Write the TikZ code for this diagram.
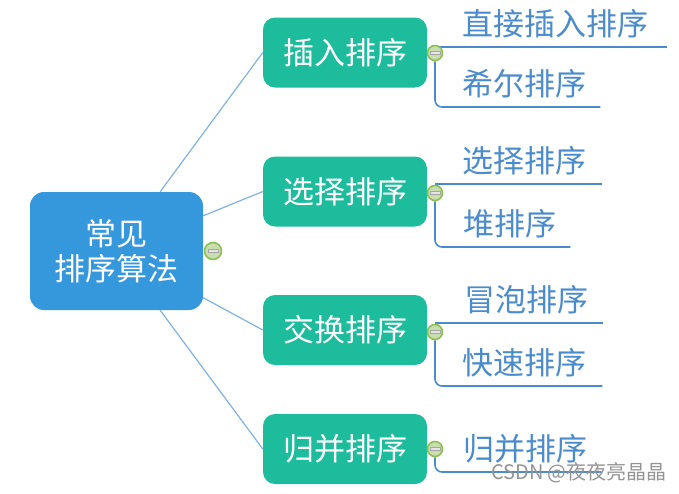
\documentclass[tikz,border=0pt]{standalone}
\usepackage{fontspec}
\setmainfont{Noto Sans CJK SC}
\usetikzlibrary{positioning}
\usetikzlibrary{backgrounds}
\definecolor{rootblue}{HTML}{3598DC}
\definecolor{boxgreen}{HTML}{1DBC9C}
\definecolor{linkblue}{HTML}{7FB2E2}
\definecolor{leafblue}{HTML}{4A8BCB}
\definecolor{foldgreen}{HTML}{8CC152}
\definecolor{foldfill}{HTML}{C9DDB0}

\begin{document}
\begin{tikzpicture}[x=1pt,y=-1pt,
  rootbox/.style={rectangle,rounded corners=14pt,fill=rootblue,text=white,minimum width=173pt,minimum height=118pt,align=center,font=\fontsize{31}{35}\selectfont},
  sortbox/.style={rectangle,rounded corners=12pt,fill=boxgreen,text=white,minimum width=164pt,minimum height=70pt,font=\fontsize{31}{35}\selectfont},
  leaf/.style={anchor=south west,inner xsep=0pt,inner ysep=11pt,text height=24pt,text depth=0pt,text=leafblue,font=\fontsize{31}{35}\selectfont},
  link/.style={draw=linkblue,line width=1.2pt},
  branch/.style={draw=leafblue,line width=1.6pt,rounded corners=7pt},
  fold/.style={circle,draw=foldgreen,fill=foldfill,line width=1.6pt,minimum size=15pt,inner sep=0pt,
    path picture={\filldraw[fill=gray!20,draw=gray!70,line width=0.6pt] ([xshift=-5pt,yshift=-1.6pt]path picture bounding box.center) rectangle ([xshift=5pt,yshift=1.6pt]path picture bounding box.center);}}]
\useasboundingbox (0,0) rectangle (679,493);
% root and the four groups
\node[rootbox] (root) at (116.5,251) {常见\\排序算法};
\node[fold,minimum size=17pt] (m0) at (213,251) {};
\node[sortbox] (b1) at (345,52.5) {插入排序};
\node[sortbox] (b2) at (345,191.5) {选择排序};
\node[sortbox] (b3) at (345,330) {交换排序};
\node[sortbox] (b4) at (345,449) {归并排序};
\node[fold] (m1) at (435,53) {};
\node[fold] (m2) at (435,193) {};
\node[fold] (m3) at (435,332) {};
\node[fold] (m4) at (435,449) {};
% leaves
\node[leaf] (l11) at (462,47) {直接插入排序};
\node[leaf] (l12) at (462,107) {希尔排序};
\node[leaf] (l21) at (462,184) {选择排序};
\node[leaf] (l22) at (463,247) {堆排序};
\node[leaf] (l31) at (464,323) {冒泡排序};
\node[leaf] (l32) at (462,386) {快速排序};
\node[leaf] (l41) at (463,472) {归并排序};
\begin{scope}[on background layer]
\draw[link] (root) -- (b1.west);
\draw[link] (root) -- (b2.west);
\draw[link] (root) -- (b3.west);
\draw[link] (root) -- (b4.west);
\draw[branch] (b1.east) -- (m1);
\draw[branch] (b2.east) -- (m2);
\draw[branch] (b3.east) -- (m3);
\draw[branch] (b4.east) -- (m4);
\draw[branch] (m1 |- l11.south) -- ([xshift=19pt]l11.south east);
\draw[branch] (m1.south) |- ([xshift=14pt]l12.south east);
\draw[branch] (m2 |- l21.south) -- ([xshift=16pt]l21.south east);
\draw[branch] (m2.south) |- ([xshift=14pt]l22.south east);
\draw[branch] (m3 |- l31.south) -- ([xshift=15pt]l31.south east);
\draw[branch] (m3.south) |- ([xshift=16pt]l32.south east);
\draw[branch] (m4.south) |- ([xshift=14pt]l41.south east);
\end{scope}
% watermark
\node[text=gray!85,font=\fontsize{20}{24}\selectfont] (mark) at (579,473) {CSDN @夜夜亮晶晶};
\end{tikzpicture}
\end{document}
